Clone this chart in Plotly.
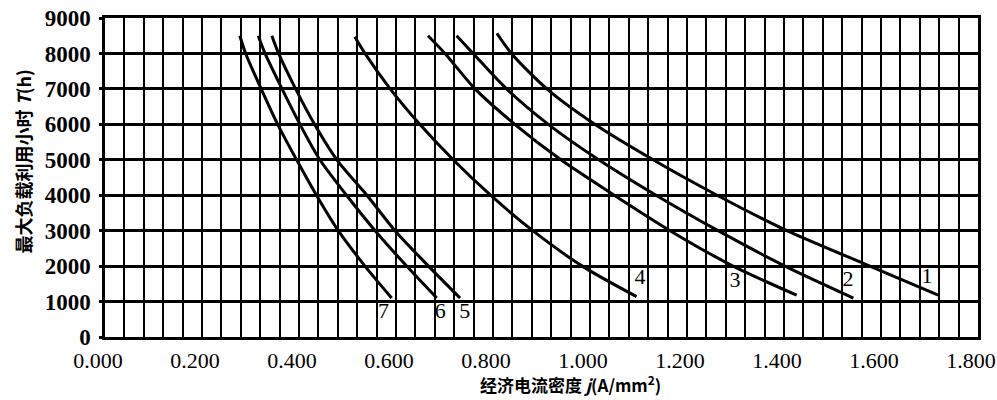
import plotly.graph_objects as go

# ---- data ----
curve_names = ["1", "2", "3", "4", "5", "6", "7"]
y_1 = [8570, 8000, 7000, 6000, 5000, 4000, 3000, 2000, 1180]
x_1 = [0.808, 0.838, 0.911, 1.010, 1.130, 1.262, 1.406, 1.577, 1.718]
y_2 = [8500, 8000, 7000, 6000, 5000, 4000, 3000, 2000, 1100]
x_2 = [0.725, 0.759, 0.828, 0.914, 1.018, 1.136, 1.264, 1.402, 1.543]
y_3 = [8500, 8000, 7000, 6000, 5000, 4000, 3000, 2000, 1180]
x_3 = [0.666, 0.701, 0.763, 0.845, 0.940, 1.050, 1.165, 1.295, 1.426]
y_4 = [8470, 8000, 7000, 6000, 5000, 4000, 3000, 2000, 1140]
x_4 = [0.515, 0.536, 0.588, 0.649, 0.718, 0.795, 0.882, 0.984, 1.096]
y_5 = [8500, 8000, 7000, 6000, 5000, 4000, 3000, 2000, 1100]
x_5 = [0.344, 0.358, 0.393, 0.432, 0.478, 0.540, 0.598, 0.667, 0.732]
y_6 = [8500, 8000, 7000, 6000, 5000, 4000, 3000, 2000, 1100]
x_6 = [0.316, 0.330, 0.365, 0.402, 0.443, 0.498, 0.557, 0.622, 0.684]
y_7 = [8500, 8000, 7000, 6000, 5000, 4000, 3000, 2000, 1100]
x_7 = [0.278, 0.290, 0.322, 0.356, 0.395, 0.436, 0.481, 0.536, 0.591]

label_x = [1.695, 1.532, 1.299, 1.103, 0.742, 0.691, 0.574]
label_y = [1690, 1600, 1560, 1660, 700, 700, 700]

x_tick_vals = [0.0, 0.2, 0.4, 0.6, 0.8, 1.0, 1.2, 1.4, 1.6, 1.8]
x_tick_text = ["0.000", "0.200", "0.400", "0.600", "0.800", "1.000",
               "1.200", "1.400", "1.600", "1.800"]
y_tick_vals = [0, 1000, 2000, 3000, 4000, 5000, 6000, 7000, 8000, 9000]

x_title = "经济电流密度 <i>j</i>(A/mm<sup>2</sup>)"
y_title = "最大负载利用小时 <i>T</i>(h)"

xs = [x_1, x_2, x_3, x_4, x_5, x_6, x_7]
ys = [y_1, y_2, y_3, y_4, y_5, y_6, y_7]

fig = go.Figure()
for name, xv, yv in zip(curve_names, xs, ys):
    fig.add_trace(go.Scatter(x=xv, y=yv, mode="lines", name=name,
                             line=dict(color="black", width=3, shape="spline", smoothing=0.8),
                             showlegend=False, hoverinfo="skip"))

fig.add_trace(go.Scatter(x=label_x, y=label_y, mode="text", text=curve_names,
                         textfont=dict(family="Liberation Serif", size=22, color="black"),
                         showlegend=False, hoverinfo="skip"))

serif = "Liberation Serif, Times New Roman, serif"
cjk = "Noto Sans CJK SC"

fig.update_layout(
    width=997, height=400,
    margin=dict(l=105, r=19, t=18, b=63),
    paper_bgcolor="white", plot_bgcolor="white",
    xaxis=dict(range=[0, 1.8], tickvals=x_tick_vals, ticktext=x_tick_text,
               automargin=False,
               showgrid=True, gridcolor="black", gridwidth=2,
               minor=dict(dtick=0.04, tick0=0, showgrid=True, gridcolor="black", gridwidth=2),
               showline=True, linecolor="black", linewidth=2.5, mirror=True,
               ticks="", ticklabelstandoff=2, ticklabelshift=-7,
               ticklabeloverflow="allow",
               tickfont=dict(family=serif, size=22, color="black"),
               zeroline=False),
    yaxis=dict(range=[0, 9000], tickvals=y_tick_vals,
               automargin=False,
               showgrid=True, gridcolor="black", gridwidth=2.7,
               showline=True, linecolor="black", linewidth=2.5, mirror=True,
               ticks="outside", ticklen=3, tickwidth=2.5, tickcolor="black",
               ticklabelstandoff=4,
               tickfont=dict(family=serif, size=23, color="black", weight="bold"),
               zeroline=False),
    annotations=[
        dict(text="<b>" + x_title + "</b>", xref="paper", yref="paper",
             x=0.533, y=-0.195, xanchor="center", yanchor="bottom", showarrow=False,
             font=dict(family=cjk, size=17, color="black")),
        dict(text="<b>" + y_title + "</b>", xref="paper", yref="paper",
             x=-0.095, y=0.55, xanchor="center", yanchor="middle", showarrow=False,
             textangle=-90, font=dict(family=cjk, size=18, color="black")),
    ],
)

fig.write_html("out.html")
